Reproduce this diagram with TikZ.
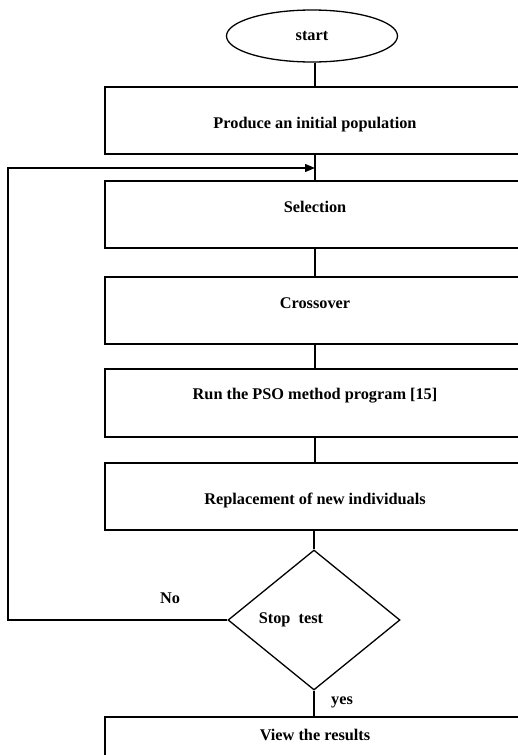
\documentclass[tikz,border=0pt]{standalone}
\usepackage{fontspec}
\setmainfont{Liberation Serif}
\usetikzlibrary{shapes.geometric,arrows.meta}
\begin{document}
\begin{tikzpicture}[x=1pt,y=-1pt,
  every node/.style={font=\bfseries\fontsize{16.3}{18}\selectfont},
  ln/.style={line width=1.3pt},
  stepbox/.style={draw,ln,rectangle,inner sep=0pt,minimum width=420pt,minimum height=67pt},
  txt/.style={inner sep=0pt}]
\useasboundingbox (0,0) rectangle (518,755);
\clip (0,0) rectangle (518,755);
\fill[white] (0,0) rectangle (518,755);
\node[draw,ln,ellipse,minimum width=171pt,minimum height=52pt,inner sep=0pt,
  label={[txt]center:start}] (start) at (312,36) {};
\node[stepbox,label={[txt,yshift=-4.5pt]center:Produce an initial population}] (prod) at (315,120.5) {};
\node[stepbox,label={[txt,yshift=7.5pt]center:Selection}] (sel) at (315,214.5) {};
\node[stepbox,label={[txt,yshift=7.5pt]center:Crossover}] (cross) at (315,310.5) {};
\node[stepbox,minimum height=68pt,label={[txt,yshift=7pt]center:Run the PSO method program [15]}] (pso) at (315,403) {};
\node[stepbox,label={[txt,yshift=-3.5pt]center:Replacement of new individuals}] (repl) at (315,496.5) {};
\node[draw,ln,diamond,minimum width=172pt,minimum height=140pt,inner sep=0pt,
  label={[txt,xshift=-23pt]center:Stop\ \ test}] (stop) at (314,620) {};
\node[stepbox,label={[txt,yshift=15.5pt]center:View the results}] (view) at (315,750.5) {};
\coordinate (loopL) at (8,620);
\coordinate (loopT) at (8,168);
\coordinate (join) at (315,168);
\draw[ln] (start.south -| join) -- (prod.north -| join);
\draw[ln] (prod.south -| join) -- (sel.north -| join);
\draw[ln,-{Triangle[length=10pt,width=8pt]}] (stop.west) -- (loopL) -- (loopT) -- (join);
\draw[ln] (sel.south -| join) -- (cross.north -| join);
\draw[ln] (cross.south -| join) -- (pso.north -| join);
\draw[ln] (pso.south -| join) -- (repl.north -| join);
\draw[ln] (repl.south -| stop.north) -- (stop.north);
\draw[ln] (stop.south) -- (view.north -| stop.south);
\node[txt] (no) at (170,598) {No};
\node[txt] (yes) at (342,702) {yes};
\end{tikzpicture}
\end{document}
